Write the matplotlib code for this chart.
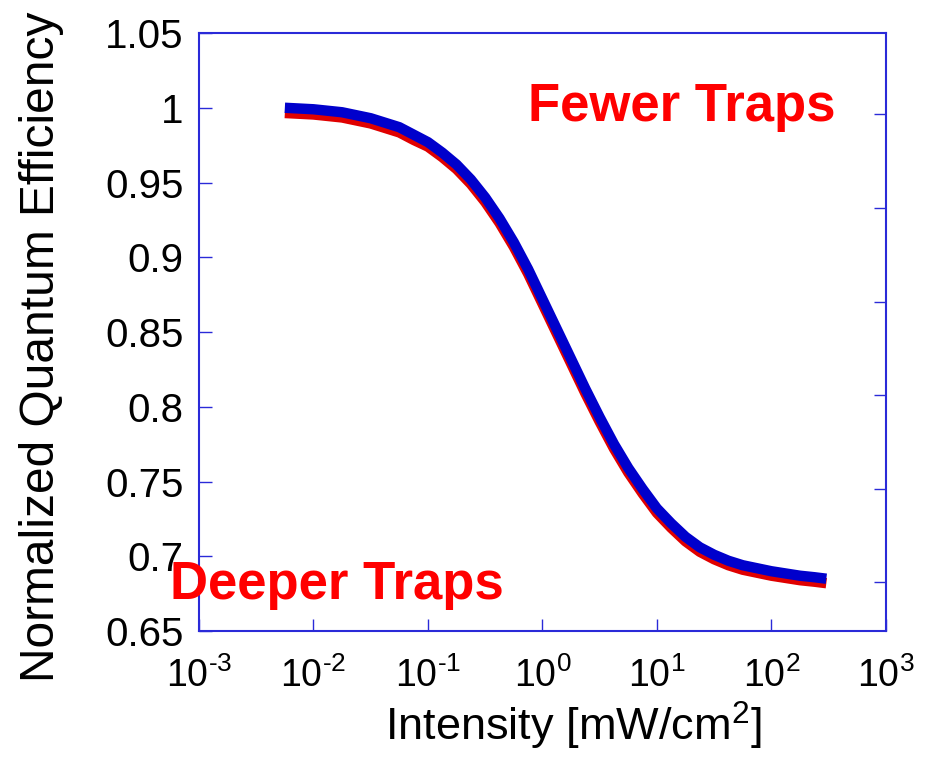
import numpy as np
import matplotlib.pyplot as plt
from matplotlib.ticker import FixedLocator, FuncFormatter

plt.rcParams['font.family'] = ['Liberation Sans', 'DejaVu Sans']
plt.rcParams['mathtext.fontset'] = 'custom'
plt.rcParams['mathtext.rm'] = 'Liberation Sans'
plt.rcParams['mathtext.it'] = 'Liberation Sans'

# Data (log10 of intensity, mW/cm^2)
log_intensity = [-2.25, -2.125, -2.0, -1.875, -1.75, -1.625, -1.5, -1.375, -1.25, -1.125,
                 -1.0, -0.875, -0.75, -0.625, -0.5, -0.375, -0.25, -0.125, 0.0, 0.125,
                 0.25, 0.375, 0.5, 0.625, 0.75, 0.875, 1.0, 1.125, 1.25, 1.375,
                 1.5, 1.625, 1.75, 1.875, 2.0, 2.125, 2.25, 2.375, 2.48]
qe_fewer = [1.000, 0.9995, 0.999, 0.998, 0.997, 0.995, 0.993, 0.990, 0.987, 0.982,
            0.977, 0.970, 0.962, 0.952, 0.940, 0.926, 0.910, 0.892, 0.872, 0.852,
            0.832, 0.812, 0.793, 0.775, 0.759, 0.745, 0.732, 0.722, 0.713, 0.706,
            0.701, 0.697, 0.694, 0.692, 0.690, 0.6885, 0.687, 0.686, 0.685]
qe_deeper = [0.9965, 0.996, 0.9955, 0.9945, 0.9935, 0.9915, 0.9895, 0.9865, 0.9835, 0.9785,
             0.974, 0.967, 0.959, 0.949, 0.937, 0.923, 0.907, 0.889, 0.869, 0.849,
             0.829, 0.809, 0.790, 0.772, 0.756, 0.742, 0.729, 0.719, 0.710, 0.703,
             0.698, 0.694, 0.691, 0.689, 0.687, 0.6855, 0.684, 0.683, 0.682]
yticks = [0.65, 0.7, 0.75, 0.8, 0.85, 0.9, 0.95, 1.0, 1.05]
right_ticks = [0.6825, 0.745, 0.808, 0.870, 0.933, 0.9958]

intensity = 10 ** np.array(log_intensity)
axcol = '#2a2ad8'

fig = plt.figure(figsize=(9.32, 7.59), dpi=100)
ax = fig.add_axes([0.2135, 0.1686, 0.737, 0.7879])

ax.plot(intensity, qe_deeper, color='#e00000', lw=7.5, solid_capstyle='butt')
ax.plot(intensity, qe_fewer, color='#0000cc', lw=7.5, solid_capstyle='butt')

ax.set_xscale('log')
ax.set_xlim(1e-3, 1e3)
ax.set_ylim(0.65, 1.05)
ax.set_yticks(yticks)
ax.yaxis.set_major_formatter(FuncFormatter(lambda v, p: '%g' % v))
ax.xaxis.set_minor_locator(FixedLocator([]))


def fmt_pow(v, p):
    e = int(round(np.log10(v)))
    s = r'\text{-}%d' % -e if e < 0 else '%d' % e
    return r'$\mathregular{10^{%s}}$' % s


ax.xaxis.set_major_formatter(FuncFormatter(fmt_pow))

for s in ax.spines.values():
    s.set_color(axcol)
    s.set_linewidth(1.5)
ax.tick_params(direction='in', length=9, width=1, color=axcol, labelsize=29, pad=11)
ax.tick_params(axis='x', labelsize=27, pad=19)

ax2 = ax.twinx()
ax2.set_ylim(0.65, 1.05)
ax2.set_yticks(right_ticks)
ax2.tick_params(direction='in', length=9, width=1, color=axcol, labelright=False)
for s in ax2.spines.values():
    s.set_visible(False)

ax.set_xlabel(r'Intensity [mW/cm$^\mathregular{2}$]', fontsize=32.5)
ax.set_ylabel('Normalized Quantum Efficiency', fontsize=34.5)
ax.xaxis.set_label_coords(0.545, -0.115)
ax.yaxis.set_label_coords(-0.197, 0.475)

ax.text(0.927, 0.876, 'Fewer Traps', transform=ax.transAxes, color='red',
        fontsize=38, fontweight='bold', ha='right', va='center')
ax.text(-0.042, 0.077, 'Deeper Traps', transform=ax.transAxes, color='red',
        fontsize=38, fontweight='bold', ha='left', va='center')

fig.savefig('out.png', dpi=100)
